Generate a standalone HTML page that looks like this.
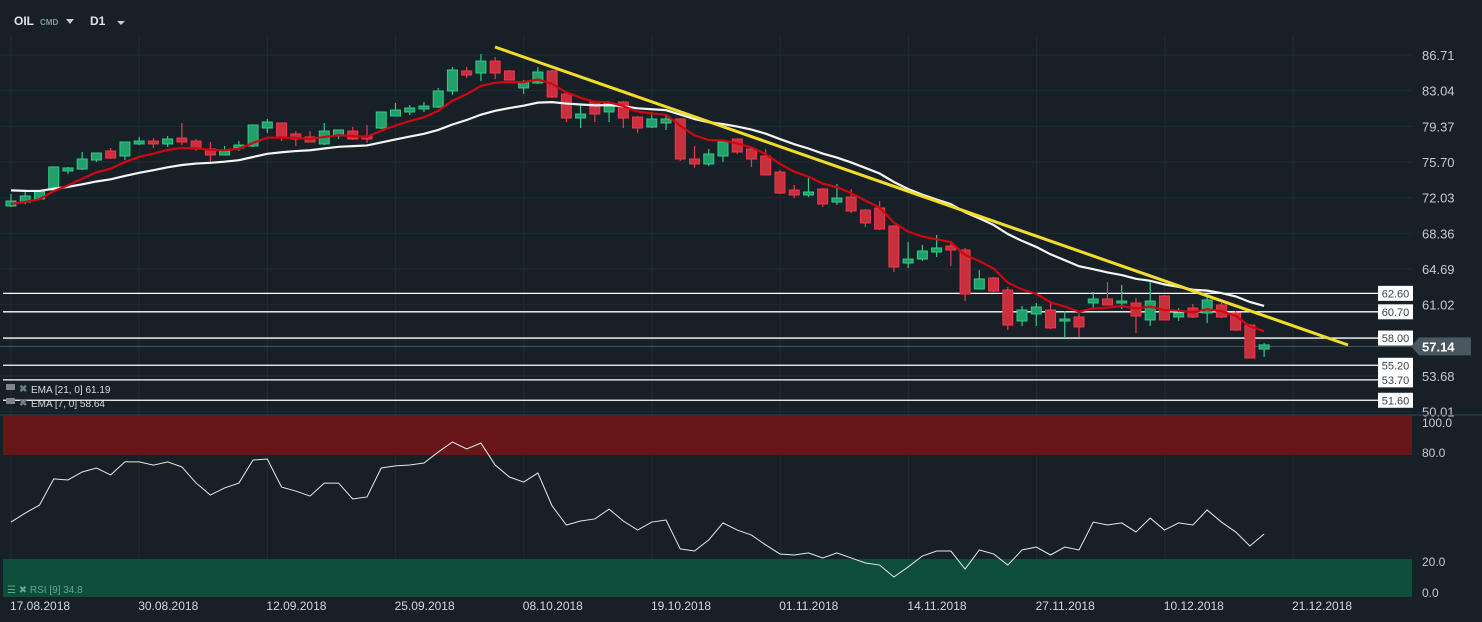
<!DOCTYPE html>
<html><head><meta charset="utf-8">
<style>
html,body{margin:0;padding:0;background:#172027;width:1482px;height:622px;overflow:hidden}
svg{display:block;font-family:"Liberation Sans",sans-serif}
</style></head>
<body>
<svg id="chart" width="1482" height="622" viewBox="0 0 1482 622" xmlns="http://www.w3.org/2000/svg">
<rect x="0" y="0" width="1482" height="622" fill="#172027"/>
<g id="grid"></g>
<g id="hlines"></g>
<g id="candles"></g>
<g id="emas"></g>
<line x1="495" y1="47" x2="1348" y2="345" stroke="#f2dc2a" stroke-width="3"/>
<g id="levelLabels"></g>
<g id="axis"></g>
<line x1="0" y1="415" x2="1482" y2="415" stroke="#3a454e" stroke-width="1"/>
<g id="rsi"></g>
<g id="dates"></g>
<g>
<text x="14" y="25" fill="#dfe3e6" font-size="12" font-weight="bold">OIL</text>
<text x="40" y="25" fill="#8a949c" font-size="8" font-weight="bold">CMD</text>
<path d="M66 19 L74 19 L70 24 Z" fill="#c8cdd2"/>
<text x="90" y="25" fill="#dfe3e6" font-size="12" font-weight="bold">D1</text>
<path d="M117 21 L125 21 L121 25 Z" fill="#c8cdd2"/>
</g>
<g>
<rect x="6" y="384" width="9" height="6" fill="#7d868d"/><text x="19" y="392" fill="#6f7a82" font-size="10" font-weight="bold">✖</text>
<text x="31" y="393" fill="#d9dde0" font-size="10">EMA [21, 0] 61.19</text>
<rect x="6" y="398" width="9" height="6" fill="#7d868d"/><text x="19" y="406" fill="#6f7a82" font-size="10" font-weight="bold">✖</text>
<text x="31" y="407" fill="#d9dde0" font-size="10">EMA [7, 0] 58.64</text>
</g>
</svg>
<script>
const opens=[71.59,71.99,72.31,73.23,75.19,75.39,76.32,77.25,76.73,77.97,78.27,77.97,78.58,78.27,77.45,76.83,77.55,77.76,79.61,80.13,79.0,78.69,77.97,78.79,79.30,78.79,79.61,80.85,81.26,81.57,81.77,83.42,85.48,85.27,86.50,85.48,83.73,84.24,85.48,83.11,80.64,82.29,81.26,82.29,80.74,79.71,80.13,80.54,76.42,75.91,76.73,78.48,77.45,76.73,75.08,73.23,72.72,73.34,71.99,72.51,71.17,71.38,69.53,65.72,66.13,66.85,67.47,67.06,63.05,64.18,62.94,59.76,60.48,60.89,59.76,60.17,61.61,62.02,61.61,61.61,59.86,62.33,60.17,61.09,60.58,61.40,60.58,59.34,56.87];
const closes=[72.10,72.62,73.13,75.60,75.50,76.42,77.04,76.52,78.17,78.27,77.97,78.48,78.17,77.45,76.83,77.25,77.86,79.92,80.23,78.69,78.48,78.17,79.30,79.41,78.48,78.48,81.26,81.46,81.67,81.87,83.42,85.58,85.06,86.50,85.27,84.55,84.34,85.37,82.80,80.64,81.05,81.05,82.18,80.64,79.61,80.54,80.54,76.42,75.91,76.94,78.17,77.14,76.42,74.78,72.92,72.72,73.03,71.79,72.41,71.07,69.84,69.22,65.31,66.13,66.96,67.27,67.06,62.53,64.08,62.84,59.34,60.89,61.20,59.04,59.96,59.14,62.02,61.40,61.81,60.27,61.81,59.86,60.58,60.17,61.92,60.17,58.83,55.95,57.29];
const highs=[72.82,73.03,73.13,75.60,75.60,77.14,77.04,77.55,78.17,78.69,78.58,78.79,80.13,78.48,78.17,77.76,78.27,79.92,80.54,80.13,79.30,79.30,80.13,79.41,79.71,79.92,81.26,82.18,81.98,82.29,83.73,85.89,85.89,87.22,86.92,85.58,84.55,85.89,85.58,83.11,81.98,82.39,82.29,82.39,80.85,81.26,80.95,80.64,77.76,77.45,78.27,78.48,77.55,77.45,75.29,73.75,74.47,73.44,73.85,73.34,71.28,72.10,69.63,67.88,67.58,68.60,67.78,67.27,65.0,64.28,63.25,61.30,61.61,61.61,60.78,60.58,62.74,63.77,63.46,62.12,63.77,62.43,61.09,61.51,62.22,61.61,60.78,59.45,57.49];
const lows=[71.48,71.79,72.26,73.13,74.88,75.29,76.11,76.42,76.32,77.86,77.55,77.66,77.86,77.25,76.11,76.83,77.25,77.66,79.10,78.27,77.76,78.17,77.86,78.48,78.38,78.07,79.51,80.85,80.95,81.26,81.67,83.01,84.76,84.45,84.65,84.55,83.11,84.14,82.70,80.23,79.61,80.23,80.23,79.61,79.10,79.61,79.41,76.22,75.50,75.70,76.11,76.94,75.60,74.78,72.82,72.41,72.51,71.48,71.69,70.87,69.43,69.12,64.80,65.21,65.93,66.34,65.41,61.81,63.05,62.74,58.83,59.24,59.24,58.93,58.01,58.11,61.0,61.40,61.0,58.52,59.24,59.86,59.76,60.06,59.55,60.06,58.73,55.95,56.05];
const rsiValues=[41.3,46.5,51.1,66.2,65.6,70.2,72.5,68.5,76.0,76.0,74.2,76.0,73.1,63.8,56.9,61.0,63.8,77.1,77.7,61.5,59.2,56.3,63.8,63.8,54.6,55.8,72.5,73.7,74.2,75.4,81.7,87.5,83.5,86.9,74.2,67.3,64.4,69.6,50.6,39.6,41.9,43.1,48.8,41.9,36.7,41.3,42.5,25.8,24.6,31.0,40.8,36.7,33.8,28.1,22.9,22.3,23.5,20.6,23.5,20.6,17.7,16.5,9.6,15.4,21.7,24.6,24.6,14.2,25.2,22.9,16.5,25.2,26.9,22.3,26.9,25.2,41.3,39.6,40.8,35.6,43.6,36.7,40.8,39.6,48.3,41.3,35.6,27.5,34.4];
const priceTicks=["86.71","83.04","79.37","75.70","72.03","68.36","64.69","61.02","57.37","53.68","50.01"];
const levels=[62.60,60.70,58.00,55.20,53.70,51.60];
const lastPrice=57.14;
const dateLabels=["17.08.2018","30.08.2018","12.09.2018","25.09.2018","08.10.2018","19.10.2018","01.11.2018","14.11.2018","27.11.2018","10.12.2018","21.12.2018"];
const rsiTicks=[100,80,20,0];
const ema21Seed=73.3, ema7Seed=71.7;

const NS="http://www.w3.org/2000/svg";
function mk(tag,attrs,parent){const e=document.createElementNS(NS,tag);for(const k in attrs)e.setAttribute(k,attrs[k]);parent.appendChild(e);return e;}
const X=i=>11+i*14.24;
const Y=p=>59+(86.71-p)*9.72;
const RY=v=>455+(80-v)*1.733;
const g=document.getElementById('grid');
for(let k=0;k<11;k++){const l=mk('line',{x1:X(0)+k*128.2,x2:X(0)+k*128.2,y1:35,y2:597,stroke:'#212b32','stroke-width':1},g);

}
priceTicks.forEach((t,k)=>{const y=Y(parseFloat(t))-4;
const l=mk('line',{x1:0,x2:1412,y1:y,y2:y,stroke:'#212b32','stroke-width':1},g);

});
const ax=document.getElementById('axis');
priceTicks.forEach((t,k)=>{if(t==="57.37")return;const y=Y(parseFloat(t))-4;
const tx=mk('text',{x:1422,y:y+5,fill:'#c4cacf','font-size':13},ax);tx.textContent=t;

});
const hl=document.getElementById('hlines'),ll=document.getElementById('levelLabels');
levels.forEach(v=>{const y=Y(v);
const l=mk('line',{x1:3,x2:1378,y1:y,y2:y,stroke:'#ffffff','stroke-width':1.3},hl);


const r=mk('rect',{x:1378,y:y-7.5,width:35,height:15,fill:'#ffffff'},ll);


const t=mk('text',{x:1395.5,y:y+4,fill:'#39434b','font-size':11,'text-anchor':'middle'},ll);t.textContent=v.toFixed(2);

});
{const y=Y(lastPrice);
const l=mk('line',{x1:0,x2:1412,y1:y,y2:y,stroke:'#4a5660','stroke-width':1},hl);


const p=mk('path',{d:`M1411 ${y} L1419 ${y-9} L1471 ${y-9} L1471 ${y+9} L1419 ${y+9} Z`,fill:'#4a5660'},ax);


const t=mk('text',{x:1422,y:y+5,fill:'#ffffff','font-size':13,'font-weight':'bold'},ax);t.textContent=lastPrice.toFixed(2);

}
const cg=document.getElementById('candles');
opens.forEach((o,i)=>{const c=closes[i],up=c>=o,x=X(i);
const col=up?'#35c987':'#f23849',fill=up?'#21a06b':'#c9303e';
const w=mk('line',{x1:x,x2:x,y1:Y(highs[i]),y2:Y(lows[i]),stroke:col,'stroke-width':1.2},cg);


const t=Math.min(Y(o),Y(c)),h=Math.max(2,Math.abs(Y(o)-Y(c)));
const b=mk('rect',{x:x-5,y:t,width:10,height:h,fill:fill,stroke:col,'stroke-width':1},cg);

});
function ema(arr,n,seed){const k=2/(n+1);let e=seed;return arr.map(v=>{e=v*k+e*(1-k);return e;});}
const e21=ema(closes,21,ema21Seed),e7=ema(closes,7,ema7Seed);
const eg=document.getElementById('emas');
const p21=mk('polyline',{points:e21.map((v,i)=>X(i)+','+Y(v)).join(' '),fill:'none',stroke:'#f4f4f4','stroke-width':2.2},eg);


const p7=mk('polyline',{points:e7.map((v,i)=>X(i)+','+Y(v)).join(' '),fill:'none',stroke:'#d0070f','stroke-width':2.2},eg);


const rg=document.getElementById('rsi');
const rb=mk('rect',{x:3,y:416,width:1409,height:RY(80)-416,fill:'#681519'},rg);


const gb=mk('rect',{x:3,y:RY(20),width:1409,height:597-RY(20),fill:'#0e4d3c'},rg);


const rl=mk('polyline',{points:rsiValues.map((v,i)=>X(i)+','+RY(v)).join(' '),fill:'none',stroke:'#e8e8e8','stroke-width':1},rg);


const rpos={100:427,80:457,20:566,0:597};
rsiTicks.forEach(v=>{const t=mk('text',{x:1422,y:rpos[v],fill:'#c4cacf','font-size':12},rg);t.textContent=v.toFixed(1);

});
const rsiLeg=mk('text',{x:7,y:593,fill:'#5fa88c','font-size':10},rg);rsiLeg.textContent='☰ ✖ RSI [9] 34.8';


const dg=document.getElementById('dates');
dateLabels.forEach((d,k)=>{const t=mk('text',{x:X(0)-1+k*128.2,y:610,fill:'#d3d7da','font-size':12},dg);t.textContent=d;

});
</script>
</body></html>
